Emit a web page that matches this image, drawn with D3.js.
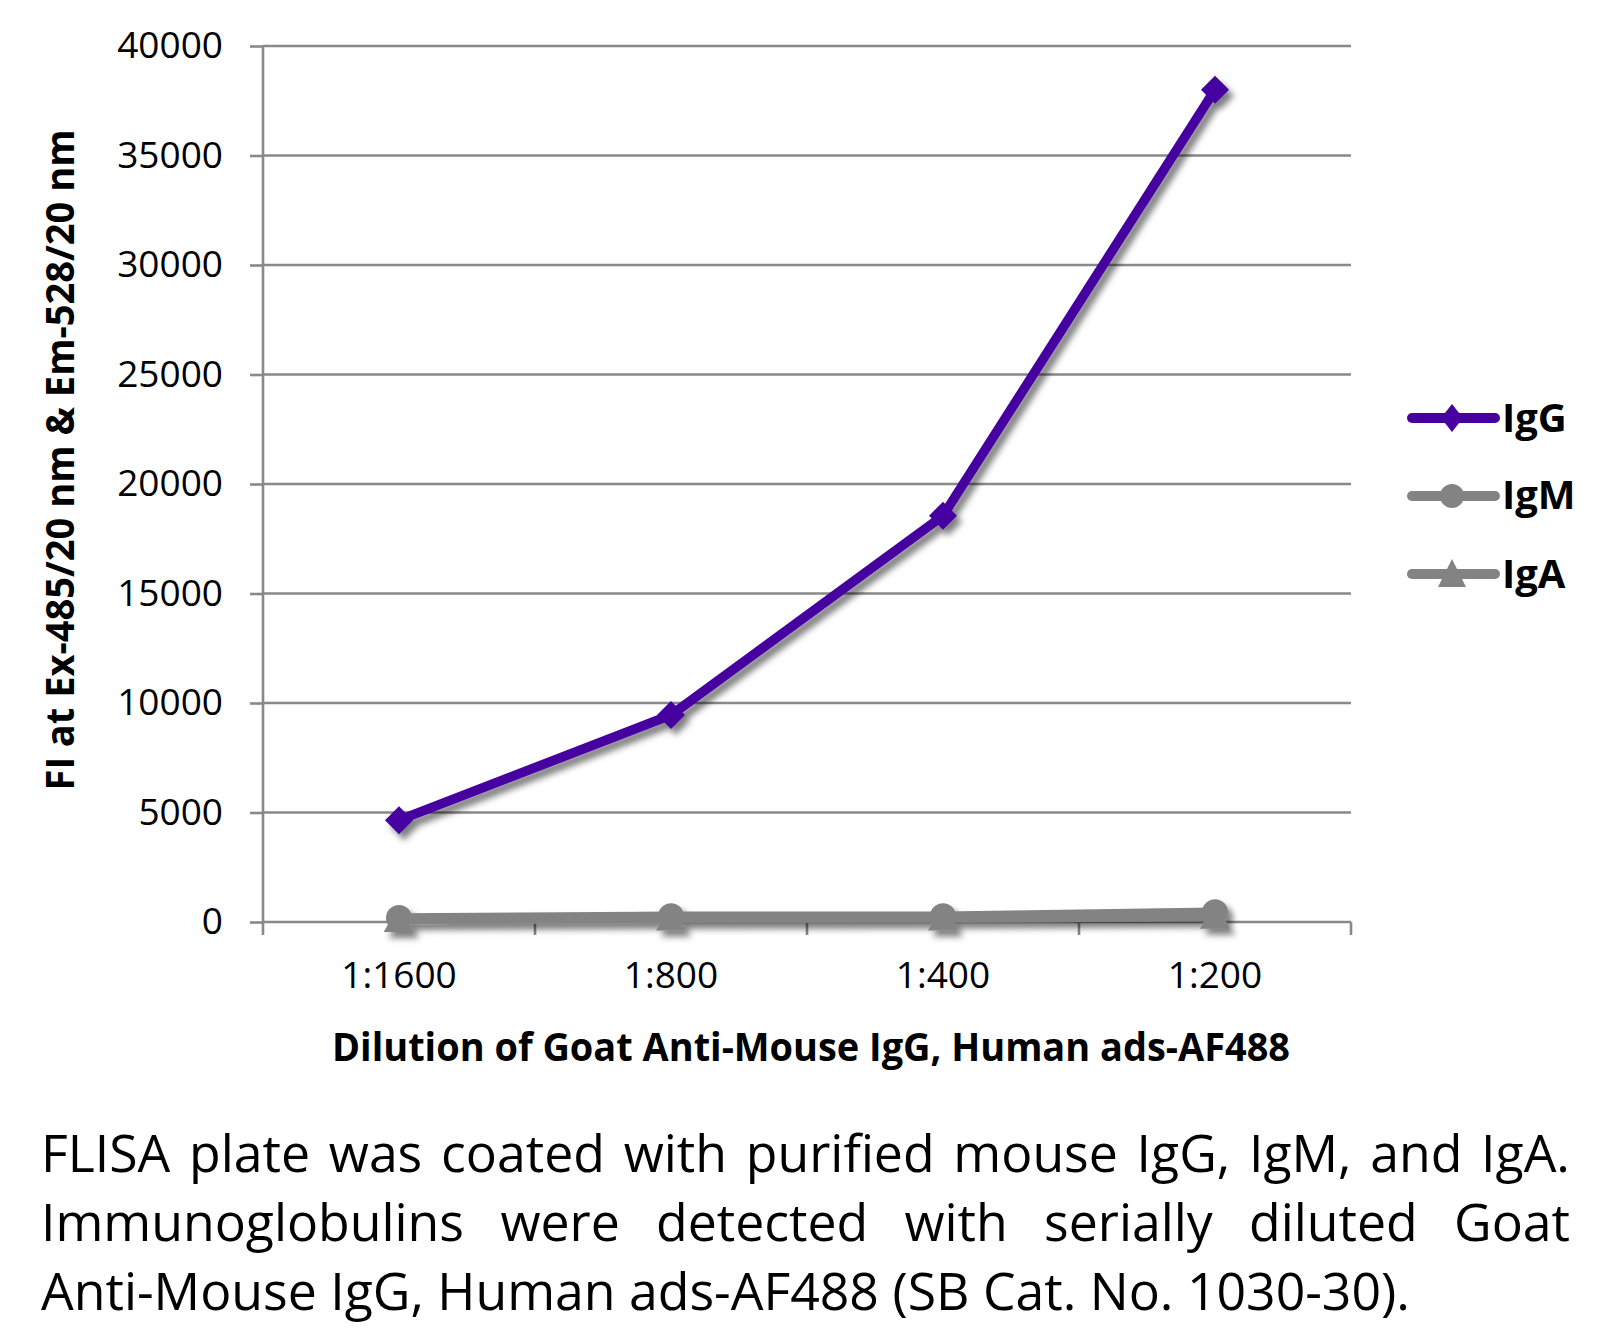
<!DOCTYPE html>
<html>
<head>
<meta charset="utf-8">
<script src="https://cdn.jsdelivr.net/npm/d3@7"></script>
<style>
  html, body { margin: 0; padding: 0; background: #fff; }
  svg { display: block; }
  text { font-family: "Open Sans", "Noto Sans", sans-serif; fill: #000; }
</style>
</head>
<body>
<svg id="chart" width="1620" height="1328"></svg>
<script>
// ---- data ----
const categories = ["1:1600", "1:800", "1:400", "1:200"];
const igG = [4650, 9450, 18550, 38000];
const igM = [180, 260, 260, 450];
const igA = [110, 170, 180, 250];
const yTicks = [0, 5000, 10000, 15000, 20000, 25000, 30000, 35000, 40000];
const seriesNames = ["IgG", "IgM", "IgA"];
const xTitle = "Dilution of Goat Anti-Mouse IgG, Human ads-AF488";
const yTitle = "FI at Ex-485/20 nm & Em-528/20 nm";
const captionLines = [
  "FLISA plate was coated with purified mouse IgG, IgM, and IgA.",
  "Immunoglobulins were detected with serially diluted Goat",
  "Anti-Mouse IgG, Human ads-AF488 (SB Cat. No. 1030-30)."
];

(function () {
// ---- layout ----
const svg = d3.select("#chart");
const pLeft = 263, pRight = 1351, pTop = 46, pBottom = 922;
const gridColor = "#898989";
const purple = "#4600a0", grey = "#838383";

const x = d3.scaleBand().domain(categories).range([pLeft, pRight]);
const xc = c => x(c) + x.bandwidth() / 2;
const y = d3.scaleLinear().domain([0, 40000]).range([pBottom, pTop]);

const defs = svg.append("defs");
const f = defs.append("filter").attr("id", "shadow")
  .attr("x", "-20%").attr("y", "-20%").attr("width", "140%").attr("height", "140%");
f.append("feDropShadow").attr("dx", 5).attr("dy", 6).attr("stdDeviation", 3.4)
  .attr("flood-color", "#000").attr("flood-opacity", 0.5);

// gridlines
svg.append("g").selectAll("line").data(yTicks).join("line")
  .attr("x1", pLeft).attr("x2", pRight)
  .attr("y1", d => y(d)).attr("y2", d => y(d))
  .attr("stroke", gridColor).attr("stroke-width", 2.6);

// y axis
const yAxis = svg.append("g").attr("transform", `translate(${pLeft},0)`)
  .call(d3.axisLeft(y).tickValues(yTicks).tickSize(13).tickPadding(27).tickFormat(d3.format("d")));
yAxis.select(".domain").remove();
yAxis.selectAll(".tick line").attr("stroke", gridColor).attr("stroke-width", 2.6);
yAxis.selectAll(".tick text").attr("font-size", 37).attr("font-family", "Open Sans").attr("fill", "#000");
svg.append("line").attr("x1", pLeft).attr("x2", pLeft).attr("y1", pTop).attr("y2", pBottom + 13)
  .attr("stroke", gridColor).attr("stroke-width", 2.6);

// x axis ticks at band boundaries
const bounds = categories.map(c => x(c)).concat([pRight]).slice(1);
svg.append("g").selectAll("line").data(bounds).join("line")
  .attr("x1", d => d).attr("x2", d => d).attr("y1", pBottom).attr("y2", pBottom + 13)
  .attr("stroke", gridColor).attr("stroke-width", 2.6);
svg.append("g").selectAll("text").data(categories).join("text")
  .attr("x", d => xc(d)).attr("y", 988).attr("text-anchor", "middle")
  .attr("font-size", 37).text(d => d);

// axis titles
svg.append("text").attr("x", 332).attr("y", 1061)
  .attr("font-size", 40).attr("font-weight", 700)
  .attr("textLength", 958).attr("lengthAdjust", "spacingAndGlyphs").text(xTitle);
svg.append("text").attr("transform", "translate(74,460) rotate(-90)")
  .attr("text-anchor", "middle").attr("font-size", 40).attr("font-weight", 700)
  .attr("textLength", 661).attr("lengthAdjust", "spacingAndGlyphs").text(yTitle);

// ---- series ----
const symDiamond = (s) => `M0,${-s}L${s},0L0,${s}L${-s},0Z`;
const symTriangle = (s) => `M0,${-s}L${s * 1.05},${s * 0.85}L${-s * 1.05},${s * 0.85}Z`;
const series = [
  { name: "IgA", values: igA, color: grey, shape: "tri" },
  { name: "IgM", values: igM, color: grey, shape: "circle" },
  { name: "IgG", values: igG, color: purple, shape: "diamond" }
];
const line = d3.line().x((d, i) => xc(categories[i])).y(d => y(d));
const plot = svg.append("g").attr("filter", "url(#shadow)");
function marker(g, shape, color, px, py, s) {
  if (shape === "circle") {
    g.append("circle").attr("cx", px).attr("cy", py).attr("r", s).attr("fill", color);
  } else {
    g.append("path").attr("transform", `translate(${px},${py})`)
      .attr("d", shape === "diamond" ? symDiamond(s) : symTriangle(s)).attr("fill", color);
  }
}
series.forEach(sr => {
  plot.append("path").datum(sr.values).attr("d", line)
    .attr("fill", "none").attr("stroke", sr.color).attr("stroke-width", 9.5)
    .attr("stroke-linejoin", "round").attr("stroke-linecap", "round");
  sr.values.forEach((v, i) => {
    const s = sr.shape === "diamond" ? 14 : (sr.shape === "circle" ? 13 : 14.5);
    marker(plot, sr.shape, sr.color, xc(categories[i]), y(v), s);
  });
});

// ---- legend ----
const legendRows = [
  { name: seriesNames[0], color: purple, shape: "diamond", cy: 418, base: 432 },
  { name: seriesNames[1], color: grey, shape: "circle", cy: 496, base: 509 },
  { name: seriesNames[2], color: grey, shape: "tri", cy: 574, base: 588 }
];
const lg = svg.append("g");
legendRows.forEach(r => {
  lg.append("line").attr("x1", 1412).attr("x2", 1495).attr("y1", r.cy).attr("y2", r.cy)
    .attr("stroke", r.color).attr("stroke-width", 10).attr("stroke-linecap", "round");
  if (r.shape === "diamond") {
    lg.append("path").attr("transform", `translate(1452,${r.cy})`)
      .attr("d", `M0,-14L11,0L0,14L-11,0Z`).attr("fill", r.color);
  } else if (r.shape === "circle") {
    lg.append("circle").attr("cx", 1452).attr("cy", r.cy).attr("r", 12).attr("fill", r.color);
  } else {
    lg.append("path").attr("transform", `translate(1452,${r.cy})`)
      .attr("d", `M0,-15L14,13L-14,13Z`).attr("fill", r.color);
  }
  lg.append("text").attr("x", 1502).attr("y", r.base).attr("font-size", 40)
    .attr("font-weight", 700).text(r.name);
});

// ---- caption (justified) ----
const capSize = 52, capLeft = 41, capRight = 1570;
const capBase = [1172, 1241, 1310];
const cap = svg.append("g");
function measure(str) {
  const t = cap.append("text").attr("font-size", capSize).text(str);
  const w = t.node().getComputedTextLength();
  t.remove();
  return w;
}
const lastW = measure(captionLines[2]);
const sx = 1369 / lastW; // glyph compression to match reference width
captionLines.forEach((ln, li) => {
  const words = ln.split(" ");
  const ws = words.map(w => measure(w) * sx);
  let gap;
  if (li < captionLines.length - 1) {
    gap = (capRight - capLeft - d3.sum(ws)) / (words.length - 1);
  } else {
    gap = measure("a b") * sx - measure("ab") * sx;
  }
  let cx = capLeft;
  words.forEach((w, i) => {
    cap.append("text").attr("transform", `translate(${cx},${capBase[li]}) scale(${sx},1)`)
      .attr("font-size", capSize).text(w);
    cx += ws[i] + gap;
  });
});
})();
</script>
</body>
</html>
